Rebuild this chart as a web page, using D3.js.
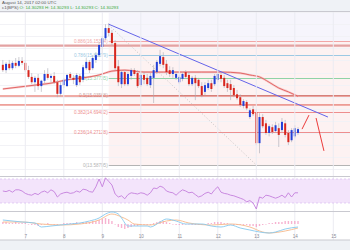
<!DOCTYPE html>
<html>
<head>
<meta charset="utf-8">
<script src="https://cdn.jsdelivr.net/npm/d3@7"></script>
<style>
  body { margin: 0; background: #fff; }
  svg { display: block; font-family: "Liberation Sans", Arial, sans-serif; }
</style>
</head>
<body>
<svg id="chart"></svg>
<script>
// 2h candles, Aug 6 10:00 -> Aug 14 02:00 UTC
const firstCandle = "2017-08-06T10:00Z";
const lastCandle = "2017-08-14T02:00Z";

const opens = [15.66,15.55,15.68,15.59,15.70,15.64,15.74,15.70,15.55,15.41,15.30,15.39,15.22,15.33,15.47,15.39,15.43,15.30,15.06,15.24,
  15.22,15.47,15.39,15.24,15.43,15.35,15.59,15.72,15.59,15.76,15.86,16.03,16.21,16.42,16.32,16.11,15.63,15.26,15.51,15.26,
  15.43,15.55,15.49,15.24,15.45,15.39,15.24,15.39,15.51,15.68,15.82,15.68,15.55,15.47,15.39,15.30,15.37,15.51,15.45,15.26,
  15.39,15.35,15.22,15.10,15.18,15.28,15.26,15.35,15.45,15.39,15.28,15.26,15.18,15.05,14.99,14.81,14.89,14.58,14.74,14.68,
  14.04,14.58,14.45,14.25,14.37,14.29,14.35,14.31,14.45,14.25,14.10,14.18,14.25];
const highs = [15.76,15.72,15.76,15.74,15.80,15.82,15.82,15.76,15.64,15.49,15.43,15.47,15.35,15.55,15.59,15.47,15.51,15.35,15.30,15.39,
  15.47,15.51,15.45,15.49,15.47,15.66,15.80,15.76,15.86,15.92,16.13,16.25,16.50,16.52,16.38,16.17,15.76,15.55,15.55,15.51,
  15.59,15.59,15.55,15.51,15.51,15.47,15.49,15.66,15.76,15.97,15.92,15.76,15.63,15.61,15.51,15.45,15.51,15.55,15.51,15.43,
  15.45,15.39,15.30,15.30,15.35,15.35,15.47,15.51,15.51,15.45,15.35,15.35,15.24,15.14,15.05,14.95,14.93,14.76,14.81,14.74,
  14.66,14.64,14.52,14.43,14.43,14.48,14.45,14.56,14.52,14.31,14.35,14.41,14.37];
const lows = [15.51,15.49,15.55,15.55,15.59,15.61,15.66,15.51,15.37,15.26,15.10,15.14,15.10,15.28,15.35,15.30,15.26,14.99,15.01,15.18,
  15.20,15.35,15.26,15.20,15.24,15.30,15.55,15.49,15.55,15.70,15.82,15.86,16.17,16.25,16.07,15.55,15.22,15.18,15.22,15.22,
  15.35,15.43,15.18,15.20,15.26,15.22,15.18,14.87,15.47,15.63,15.59,15.45,15.41,15.39,15.35,15.26,15.32,15.37,15.22,15.22,
  14.93,15.18,14.99,15.03,15.14,15.10,15.22,15.30,15.30,15.18,15.10,14.93,14.99,14.93,14.79,14.76,14.72,14.54,14.60,14.00,
  13.83,14.35,14.21,14.18,14.23,14.25,13.96,14.27,14.16,14.00,14.06,14.14,14.21];
const closes = [15.55,15.68,15.59,15.70,15.64,15.74,15.70,15.55,15.41,15.30,15.39,15.22,15.33,15.47,15.39,15.43,15.30,15.06,15.24,15.35,
  15.45,15.39,15.35,15.45,15.30,15.61,15.72,15.55,15.80,15.86,16.07,16.21,16.42,16.32,16.11,15.59,15.30,15.51,15.26,15.47,
  15.55,15.47,15.22,15.45,15.35,15.26,15.43,15.55,15.72,15.84,15.66,15.51,15.47,15.55,15.47,15.41,15.47,15.41,15.26,15.39,
  15.28,15.22,15.03,15.24,15.28,15.16,15.43,15.47,15.37,15.22,15.18,15.14,15.03,14.97,14.83,14.91,14.76,14.72,14.64,14.04,
  14.58,14.39,14.25,14.39,14.27,14.41,14.21,14.48,14.21,14.06,14.31,14.35,14.33];

// moving average read at a few candles
const maIndex = [0,5,10,15,20,25,30,34,38,44,50,56,62,68,74,77,80,83,86,89,92];
const maValue = [15.16,15.20,15.24,15.28,15.35,15.39,15.45,15.53,15.55,15.51,15.51,15.51,15.51,15.51,15.49,15.45,15.41,15.30,15.18,15.10,15.01];

// fibonacci tool anchors
const fibHighTime = "2017-08-09T04:00Z";
const fibHigh = 16.48342;
const fibLowTime = "2017-08-13T00:00Z";
const fibLow = 13.58795;
const fibRatios = [0, 0.236, 0.382, 0.5, 0.618, 0.786, 0.886];
const fibColors = ["#b4b4b4", "#ee8e8e", "#ee8e8e", "#c9a8a8", "#8fd3a6", "#9cc9e4", "#f2a6a6"];

// horizontal support / resistance
const levelPrices = [16.055, 15.015, 14.83];

// trend line & forecast
const trendTimes = ["2017-08-09T04:00Z", "2017-08-14T20:40Z"];
const trendPrices = [16.50, 14.58];
const zigTimes = [["2017-08-14T04:30Z", "2017-08-14T08:50Z"], ["2017-08-14T13:15Z", "2017-08-14T18:10Z"]];
const zigPrices = [[14.33, 14.62], [14.56, 13.88]];

// RSI per candle
const rsi = [50,49,51,48,52,52,50,46,44,43,46,44,48,50,47,52,49,40,45,47,
  48,46,47,50,48,53,52,49,48,57,70,57,72,66,60,45,40,42,37,44,
  47,46,45,47,46,43,47,55,54,58,56,50,48,47,43,48,52,50,47,48,
  44,40,42,46,48,45,52,57,48,46,45,43,42,40,38,36,32,34,30,20,
  40,38,43,42,40,38,40,43,39,47,40,47,47];

// MACD
const macdIndex = [0,6,10,12,15,18,21,24,27,30,32,34,36,37,39,41,45,46,49,51,54,57,62,65,68,71,74,77,80,83,85,88,92];
const macdValue = [0.04,0.02,0.01,-0.03,-0.02,-0.01,0.00,0.01,0.03,0.06,0.10,0.12,0.10,0.06,-0.02,-0.02,-0.02,-0.03,0.02,0.05,0.03,0.00,0.00,-0.02,-0.03,-0.01,-0.04,-0.06,-0.08,-0.09,-0.08,-0.05,-0.03];
const signalIndex = [0,6,12,18,24,30,34,37,39,41,46,51,54,58,65,71,77,81,83,88,92];
const signalValue = [0.02,0.02,0.00,-0.01,0.00,0.04,0.10,0.07,0.04,0.00,-0.01,0.03,0.04,0.01,-0.01,0.00,-0.03,-0.08,-0.09,-0.07,-0.04];
const histValue = [0.02,0.02,0.01,0.01,0.02,0.01,0.01,0.01,0.00,-0.01,
  -0.01,-0.02,-0.01,0.00,0.01,0.00,-0.01,-0.01,0.00,0.01,
  0.01,0.01,0.01,0.02,0.01,0.02,0.02,0.02,0.03,0.03,
  0.04,0.05,0.06,0.05,0.03,0.00,-0.03,-0.04,-0.05,-0.04,
  -0.03,-0.02,-0.02,-0.01,-0.01,-0.01,-0.01,0.01,0.02,0.03,
  0.03,0.02,0.01,0.00,-0.01,-0.01,-0.01,0.00,0.00,-0.01,
  -0.01,-0.01,-0.01,0.00,0.01,0.01,0.02,0.02,0.02,0.01,
  0.01,0.00,-0.01,-0.01,-0.01,-0.01,-0.01,-0.02,-0.02,-0.03,
  -0.02,-0.01,0.00,0.01,0.01,0.02,0.02,0.02,0.03,0.03,
  0.03,0.03,0.03];

const titleText = "August 14, 2017 02:00 UTC";
const legendLabel = "c1(BPS)";
const legendValues = ["O: 14.30293", "H: 14.30293", "L: 14.30293", "C: 14.30293"];

// ---------------------------------------------------------------
const W = 350, H = 250;
const P = {top: 12, mainBottom: 176, rsiTop: 178, rsiBottom: 210, macdTop: 212, axis: 240};

const parse = d3.utcParse("%Y-%m-%dT%H:%MZ");
const times = d3.utcHour.every(2).range(parse(firstCandle), d3.utcHour.offset(parse(lastCandle), 1));
const candles = times.map((t, i) => ({t, o: opens[i], h: highs[i], l: lows[i], c: closes[i]}));

const svg = d3.select('#chart').attr('width', W).attr('height', H);

const x = d3.scaleUtc()
    .domain([Date.UTC(2017, 7, 7), Date.UTC(2017, 7, 15)])
    .range([25.3, 333.3]);
const y = d3.scaleLinear().domain([fibLow, fibHigh]).range([165, 25]);
const yR = d3.scaleLinear().domain([30, 70]).range([203, 179]);
const yM = d3.scaleLinear().domain([-0.1, 0.1]).range([234, 214]);

// backgrounds
svg.append('rect').attr('width', W).attr('height', H).attr('fill', '#fff');
svg.append('rect').attr('width', W).attr('height', 11).attr('fill', '#eff2f6');
svg.append('rect').attr('y', P.axis).attr('width', W).attr('height', H - P.axis).attr('fill', '#eff2f6');

const defs = svg.append('defs');
defs.append('clipPath').attr('id', 'mainClip')
  .append('rect').attr('x', 0).attr('y', P.top).attr('width', W).attr('height', P.mainBottom - P.top);

const main = svg.append('g').attr('clip-path', 'url(#mainClip)');

// fib shading
const fx0 = x(parse(fibHighTime));
const fibPrice = r => fibLow + r * (fibHigh - fibLow);
main.append('rect').attr('x', fx0).attr('y', P.top).attr('width', W - fx0)
  .attr('height', y(fibPrice(0.886)) - P.top).attr('fill', '#f6f5fc');
main.append('rect').attr('x', fx0).attr('y', y(fibPrice(0.886)))
  .attr('width', W - fx0).attr('height', y(fibLow) - y(fibPrice(0.886))).attr('fill', '#fdf2f2');

// grids
const days = d3.utcDay.range(Date.UTC(2017, 7, 7), Date.UTC(2017, 7, 15, 1));
svg.append('g').selectAll('line').data(days).join('line')
  .attr('x1', d => x(d)).attr('x2', d => x(d))
  .attr('y1', P.top).attr('y2', P.axis)
  .attr('stroke', '#ececf2').attr('stroke-width', 1);
main.append('g').selectAll('line').data(d3.range(13.5, 16.8, 0.25)).join('line')
  .attr('x1', 0).attr('x2', W)
  .attr('y1', d => Math.round(y(d)) + 0.5).attr('y2', d => Math.round(y(d)) + 0.5)
  .attr('stroke', '#f2f2f6');

// fib levels
const fibG = main.append('g');
fibRatios.forEach((r, i) => {
  const yy = Math.round(y(fibPrice(r))) + 0.5;
  fibG.append('line').attr('x1', fx0).attr('x2', W).attr('y1', yy).attr('y2', yy)
    .attr('stroke', fibColors[i]).attr('stroke-width', 1);
  fibG.append('text').attr('x', fx0 - 1).attr('y', yy + 1.6)
    .attr('text-anchor', 'end').attr('font-size', 4.6).attr('fill', fibColors[i])
    .text(`${r}(${fibPrice(r).toFixed(5)})`);
});

// support / resistance
levelPrices.forEach((p, i) => {
  main.append('line').attr('x1', 0).attr('x2', W)
    .attr('y1', y(p)).attr('y2', y(p))
    .attr('stroke', i === 0 ? '#e3a2a2' : '#e0584c')
    .attr('stroke-width', i === 0 ? 2.2 : 1);
});

// fib diagonal
main.append('line')
  .attr('x1', fx0).attr('y1', y(fibHigh))
  .attr('x2', x(parse(fibLowTime))).attr('y2', y(fibLow))
  .attr('stroke', '#b8b8b8').attr('stroke-width', 0.8).attr('stroke-dasharray', '1,2');

// moving average
const maLine = d3.line().x(d => x(times[d[0]])).y(d => y(d[1])).curve(d3.curveMonotoneX);
const maData = maIndex.map((k, i) => [k, maValue[i]]);
main.append('path').datum(maData).attr('d', maLine)
  .attr('fill', 'none').attr('stroke', '#f3b0b0').attr('stroke-width', 2.2).attr('opacity', 0.6);
main.append('path').datum(maData).attr('d', maLine)
  .attr('fill', 'none').attr('stroke', '#e05a5a').attr('stroke-width', 0.9);

// candles
const cg = main.append('g');
cg.selectAll('line').data(candles).join('line')
  .attr('x1', d => x(d.t)).attr('x2', d => x(d.t))
  .attr('y1', d => y(d.h)).attr('y2', d => y(d.l))
  .attr('stroke', '#a9a9b4').attr('stroke-width', 0.6);
cg.selectAll('rect').data(candles).join('rect')
  .attr('x', d => x(d.t) - 1).attr('width', 2)
  .attr('y', d => y(Math.max(d.o, d.c)))
  .attr('height', d => Math.max(1, Math.abs(y(d.o) - y(d.c))))
  .attr('fill', d => d.c >= d.o ? '#2140d8' : '#d8261e');

// trend line
main.append('line')
  .attr('x1', x(parse(trendTimes[0]))).attr('y1', y(trendPrices[0]))
  .attr('x2', x(parse(trendTimes[1]))).attr('y2', y(trendPrices[1]))
  .attr('stroke', '#6464ea').attr('stroke-width', 1);

// forecast zigzag
zigTimes.forEach((ts, i) => {
  main.append('line')
    .attr('x1', x(parse(ts[0]))).attr('y1', y(zigPrices[i][0]))
    .attr('x2', x(parse(ts[1]))).attr('y2', y(zigPrices[i][1]))
    .attr('stroke', '#ec3b3b').attr('stroke-width', 1);
});

// panel separators
[11.5, P.mainBottom + 0.5, P.macdTop - 0.5, P.axis].forEach(yy => {
  svg.append('line').attr('x1', 0).attr('x2', W).attr('y1', yy).attr('y2', yy)
    .attr('stroke', '#c9c9d0').attr('stroke-width', 1.2);
});

// RSI panel
const rsiG = svg.append('g');
rsiG.append('rect').attr('x', 0).attr('width', W)
  .attr('y', yR(70)).attr('height', yR(30) - yR(70)).attr('fill', '#f3e4fb');
[70, 30].forEach(v => {
  rsiG.append('line').attr('x1', 0).attr('x2', W).attr('y1', yR(v)).attr('y2', yR(v))
    .attr('stroke', '#d9bdf0').attr('stroke-width', 0.7).attr('stroke-dasharray', '2,2');
});
rsiG.append('path').datum(rsi)
  .attr('d', d3.line().x((d, i) => x(times[i])).y(d => yR(d)))
  .attr('fill', 'none').attr('stroke', '#c47fdc').attr('stroke-width', 0.9);

// MACD panel
const mg = svg.append('g');
mg.selectAll('rect').data(histValue).join('rect')
  .attr('x', (d, i) => x(times[i]) - 0.7).attr('width', 1.4)
  .attr('y', d => Math.min(yM(0), yM(d)))
  .attr('height', d => Math.max(0.6, Math.abs(yM(d) - yM(0))))
  .attr('fill', '#f49ac1').attr('opacity', 0.75);
mg.append('path').datum(signalIndex.map((k, i) => [k, signalValue[i]]))
  .attr('d', d3.line().x(d => x(times[d[0]])).y(d => yM(d[1])).curve(d3.curveMonotoneX))
  .attr('fill', 'none').attr('stroke', '#f6b98a').attr('stroke-width', 0.9);
mg.append('path').datum(macdIndex.map((k, i) => [k, macdValue[i]]))
  .attr('d', d3.line().x(d => x(times[d[0]])).y(d => yM(d[1])).curve(d3.curveMonotoneX))
  .attr('fill', 'none').attr('stroke', '#86c8ee').attr('stroke-width', 0.9);

// time axis
const xAxis = d3.axisBottom(x)
  .ticks(d3.utcDay.every(1))
  .tickFormat(d3.utcFormat('%-d'))
  .tickSize(0).tickPadding(3);
const xAxisG = svg.append('g').attr('transform', `translate(0,${P.axis - 8})`).call(xAxis);
xAxisG.select('.domain').remove();
xAxisG.selectAll('text').attr('font-size', 4.6).attr('fill', '#8a8a94').attr('font-family', '"Liberation Sans", Arial, sans-serif');

// header text
svg.append('text').attr('x', 2).attr('y', 4.2).attr('font-size', 4.4).attr('fill', '#555')
  .text(titleText);
const leg = svg.append('text').attr('x', 2).attr('y', 9.2).attr('font-size', 4.4).attr('fill', '#555');
leg.append('tspan').text(legendLabel + ' ');
legendValues.forEach(v => leg.append('tspan').attr('fill', '#3aa93a').text(v + ' '));
</script>
</body>
</html>
